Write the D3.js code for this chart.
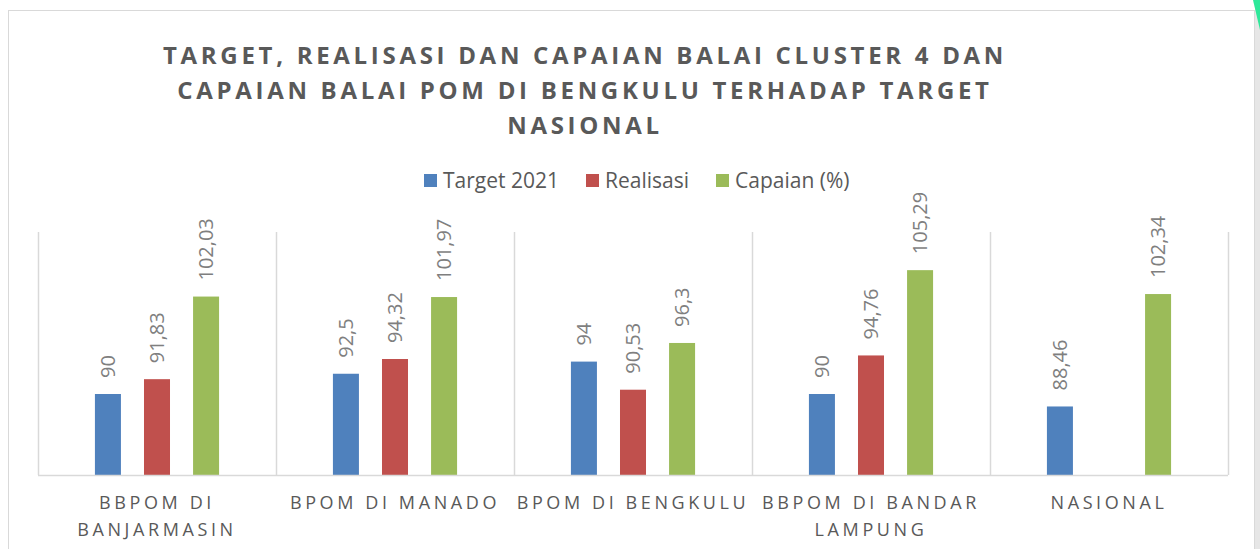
<!DOCTYPE html>
<head>
  <script src="https://d3js.org/d3.v7.min.js"></script>
  <style>
    body { margin: 0; background: #fff; }
  </style>
</head>
<body>

<svg width="1260" height="549"></svg>

<script>
  // data
  const categories = ["BBPOM DI BANJARMASIN", "BPOM DI MANADO", "BPOM DI BENGKULU", "BBPOM DI BANDAR LAMPUNG", "NASIONAL"];
  const categoryLines = [["BBPOM DI", "BANJARMASIN"], ["BPOM DI MANADO"], ["BPOM DI BENGKULU"], ["BBPOM DI BANDAR", "LAMPUNG"], ["NASIONAL"]];
  const seriesNames = ["Target 2021", "Realisasi", "Capaian (%)"];
  const target2021 = [90, 92.5, 94, 90, 88.46];
  const realisasi = [91.83, 94.32, 90.53, 94.76, null];
  const capaian = [102.03, 101.97, 96.3, 105.29, 102.34];
  const titleLines = ["TARGET, REALISASI DAN CAPAIAN BALAI CLUSTER 4 DAN", "CAPAIAN BALAI POM DI BENGKULU TERHADAP TARGET", "NASIONAL"];

  const series = [target2021, realisasi, capaian];
  const colors = ["#4f81bd", "#c0504d", "#9bbb59"];

  const svg = d3.select("svg");

  // chart frame
  svg.append("rect")
    .attr("x", 8.5).attr("y", 10.5)
    .attr("width", 1246).attr("height", 560)
    .attr("fill", "#fff")
    .attr("stroke", "#d9d9d9");
  svg.append("rect")
    .attr("x", 1255).attr("y", 0)
    .attr("width", 5).attr("height", 549)
    .attr("fill", "#e6e6e6");
  svg.append("path")
    .attr("d", "M1253,0 L1260,0 L1260,30 Z")
    .attr("fill", "#2ee89a");

  const plotLeft = 38, plotRight = 1228, plotTop = 232, plotBottom = 475;

  const x0 = d3.scaleBand()
    .domain(categories)
    .range([plotLeft, plotRight]);

  const x1 = d3.scaleBand()
    .domain(seriesNames)
    .range([0, x0.bandwidth()])
    .paddingInner(0.47)
    .paddingOuter(1.16);

  const y = d3.scaleLinear()
    .domain([80, 110])
    .range([plotBottom, plotTop]);

  // vertical gridlines at category boundaries
  const bounds = categories.map(c => x0(c)).concat([plotRight]);
  svg.append("g").selectAll("line")
    .data(bounds)
    .enter().append("line")
    .attr("x1", d => d + 0.5).attr("x2", d => d + 0.5)
    .attr("y1", plotTop).attr("y2", plotBottom)
    .attr("stroke", "#d9d9d9")
    .attr("stroke-width", 1.5);

  // bars
  const rows = [];
  categories.forEach((c, i) => {
    seriesNames.forEach((s, j) => {
      if (series[j][i] != null) rows.push({ c, s, j, v: series[j][i] });
    });
  });

  svg.append("g").selectAll("rect")
    .data(rows)
    .enter().append("rect")
    .attr("x", d => x0(d.c) + x1(d.s))
    .attr("y", d => y(d.v))
    .attr("width", x1.bandwidth())
    .attr("height", d => plotBottom - y(d.v))
    .attr("fill", d => colors[d.j]);

  // data labels
  svg.append("g").selectAll("text")
    .data(rows)
    .enter().append("text")
    .attr("transform", d => `translate(${x0(d.c) + x1(d.s) + x1.bandwidth() / 2 + 7}, ${y(d.v) - 16}) rotate(-90)`)
    .attr("fill", "#7f7f7f")
    .style("font-family", "'Open Sans', sans-serif")
    .style("font-size", "20px")
    .text(d => String(d.v).replace(".", ","));

  // x axis line
  svg.append("line")
    .attr("x1", plotLeft).attr("x2", plotRight)
    .attr("y1", plotBottom + 0.5).attr("y2", plotBottom + 0.5)
    .attr("stroke", "#d9d9d9")
    .attr("stroke-width", 1.5);

  // category labels
  const xl = svg.append("g").selectAll("text")
    .data(categories)
    .enter().append("text")
    .attr("x", d => x0(d) + x0.bandwidth() / 2)
    .attr("y", 509)
    .attr("text-anchor", "middle")
    .attr("fill", "#595959")
    .style("font-family", "'Open Sans', sans-serif")
    .style("font-size", "18px")
    .style("letter-spacing", "3.6px");

  xl.selectAll("tspan")
    .data((d, i) => categoryLines[i])
    .enter().append("tspan")
    .attr("x", function() { return this.parentNode.getAttribute("x"); })
    .attr("dy", (d, i) => i === 0 ? 0 : 27)
    .text(d => d);

  // title
  svg.append("g").selectAll("text")
    .data(titleLines)
    .enter().append("text")
    .attr("x", 585)
    .attr("y", (d, i) => 64 + i * 35)
    .attr("text-anchor", "middle")
    .attr("fill", "#595959")
    .style("font-family", "'Open Sans', sans-serif")
    .style("font-weight", "bold")
    .style("font-size", "24px")
    .style("letter-spacing", "3.7px")
    .text(d => d);

  // legend
  const legendX = [424, 586, 716];
  const legend = svg.selectAll(".legend")
    .data(seriesNames)
    .enter().append("g")
    .attr("class", "legend")
    .attr("transform", (d, i) => `translate(${legendX[i]}, 174)`);

  legend.append("rect")
    .attr("width", 13)
    .attr("height", 13)
    .attr("fill", (d, i) => colors[i]);

  legend.append("text")
    .attr("x", 19)
    .attr("y", 14)
    .attr("fill", "#595959")
    .style("font-family", "'Open Sans', sans-serif")
    .style("font-size", "21px")
    .text(d => d);
</script>

</body>
</html>
